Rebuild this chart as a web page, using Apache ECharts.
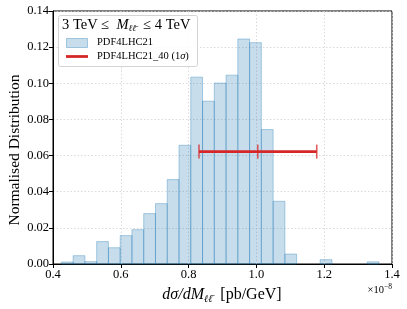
<!DOCTYPE html>
<html><head><meta charset="utf-8">
<script src="https://cdn.jsdelivr.net/npm/echarts@6/dist/echarts.min.js"></script>
<style>html,body{margin:0;padding:0;background:#fff}#c{width:407px;height:309px}</style>
</head><body><div id="c"></div>
<script>
// Histogram bin edges (units of 1e-8 pb/GeV)
const binEdges = [0.4247, 0.4594, 0.4941, 0.5288, 0.5635, 0.5982, 0.6329, 0.6676, 0.7023, 0.7370,
  0.7717, 0.8064, 0.8411, 0.8758, 0.9105, 0.9452, 0.9799, 1.0146, 1.0493, 1.0840,
  1.1187, 1.1534, 1.1881, 1.2228, 1.2575, 1.2922, 1.3269, 1.3616];
// Normalised counts per bin
const binHeights = [0.0011, 0.0046, 0.0013, 0.0124, 0.0090, 0.0157, 0.0190, 0.0279, 0.0334, 0.0467,
  0.0657, 0.1034, 0.0901, 0.1001, 0.1045, 0.1245, 0.1225, 0.0744, 0.0347, 0.0055,
  0.0000, 0.0000, 0.0024, 0.0000, 0.0000, 0.0000, 0.0012];
// Error bar: central value, y-level, lower, upper (1 sigma)
const errCenter = [1.004];
const errY = [0.0622];
const errLow = [0.8307];
const errHigh = [1.178];
const xTicks = [0.4, 0.6, 0.8, 1.0, 1.2, 1.4];
const yTicks = [0.00, 0.02, 0.04, 0.06, 0.08, 0.10, 0.12, 0.14];
const seriesNames = ['PDF4LHC21', 'PDF4LHC21_40 (1σ)'];

const SERIF = '"Liberation Serif","DejaVu Serif",serif';
const SUBF = '"DejaVu Serif","Liberation Serif",serif';
const histData = binHeights.map((h, i) => [binEdges[i], binEdges[i + 1], h]);
const errData = errCenter.map((c, i) => [c, errY[i], errLow[i], errHigh[i]]);

const chart = echarts.init(document.getElementById('c'));
chart.setOption({
  animation: false,
  grid: { left: 53, right: 15, top: 11, bottom: 45, show: true, borderColor: '#000', borderWidth: 1 },
  xAxis: {
    type: 'value', min: xTicks[0], max: xTicks[xTicks.length - 1], interval: 0.2,
    axisLine: { lineStyle: { color: '#000', width: 1 } },
    axisTick: { show: true, inside: false, length: 4, lineStyle: { color: '#000' } },
    axisLabel: { color: '#000', fontFamily: SERIF, fontSize: 12.5, margin: 4, formatter: v => v.toFixed(1) },
    splitLine: { show: true, lineStyle: { color: '#d0d0d0', type: [1.5, 2], width: 0.8 } }
  },
  yAxis: {
    type: 'value', min: yTicks[0], max: yTicks[yTicks.length - 1], interval: 0.02,
    axisLine: { show: true, lineStyle: { color: '#000', width: 1 } },
    axisTick: { show: true, inside: false, length: 4, lineStyle: { color: '#000' } },
    axisLabel: { color: '#000', fontFamily: SERIF, fontSize: 12.5, margin: 4, formatter: v => v.toFixed(2) },
    splitLine: { show: true, lineStyle: { color: '#d0d0d0', type: [1.5, 2], width: 0.8 } }
  },
  series: [
    {
      name: seriesNames[0], type: 'custom', data: histData,
      encode: { x: [0, 1], y: 2 },
      renderItem: function (params, api) {
        const h = api.value(2);
        if (!(h > 0)) return null;
        const p0 = api.coord([api.value(0), h]);
        const p1 = api.coord([api.value(1), 0]);
        return {
          type: 'rect',
          shape: { x: p0[0], y: p0[1], width: p1[0] - p0[0], height: p1[1] - p0[1] },
          style: { fill: 'rgba(31,119,180,0.25)', stroke: 'rgba(31,119,180,0.35)', lineWidth: 1 }
        };
      }
    },
    {
      name: seriesNames[1], type: 'custom', data: errData, z: 5,
      encode: { x: [0, 2, 3], y: 1 },
      renderItem: function (params, api) {
        const y = api.value(1);
        const pc = api.coord([api.value(0), y]);
        const pl = api.coord([api.value(2), y]);
        const ph = api.coord([api.value(3), y]);
        const cap = 7;
        const st = { stroke: '#d62728', lineWidth: 2.8 };
        const cs = { stroke: 'rgba(214,39,40,0.75)', lineWidth: 1.6 };
        return {
          type: 'group', children: [
            { type: 'line', shape: { x1: pl[0], y1: pl[1], x2: ph[0], y2: ph[1] }, style: st },
            { type: 'line', shape: { x1: pl[0], y1: pl[1] - cap, x2: pl[0], y2: pl[1] + cap }, style: cs },
            { type: 'line', shape: { x1: ph[0], y1: ph[1] - cap, x2: ph[0], y2: ph[1] + cap }, style: cs },
            { type: 'line', shape: { x1: pc[0], y1: pc[1] - cap, x2: pc[0], y2: pc[1] + cap }, style: cs }
          ]
        };
      }
    }
  ],
  graphic: [
    // legend box
    { type: 'rect', left: 58, top: 15, shape: { width: 139, height: 51, r: 2 },
      style: { fill: 'rgba(255,255,255,0.85)', stroke: '#d4d4d4', lineWidth: 1 }, z: 10 },
    { type: 'text', left: 62, top: 18, z: 11,
      style: { text: '3 TeV ≤  {i|M}{s|ℓℓ̄}  ≤ 4 TeV', fill: '#000', font: '14.5px ' + SERIF,
        rich: { i: { fontStyle: 'italic', fontFamily: SERIF, fontSize: 14.5 }, s: { fontStyle: 'italic', fontFamily: SUBF, fontSize: 9, padding: [7, 0, 0, 0] } } } },
    { type: 'rect', left: 66, top: 38, shape: { width: 21, height: 9 }, z: 11,
      style: { fill: 'rgba(31,119,180,0.25)', stroke: 'rgba(31,119,180,0.35)', lineWidth: 1 } },
    { type: 'text', left: 97, top: 37, z: 11, style: { text: seriesNames[0], fill: '#000', font: '10.5px ' + SERIF } },
    { type: 'line', shape: { x1: 66, y1: 56.5, x2: 88, y2: 56.5 }, z: 11, style: { stroke: '#d62728', lineWidth: 2.8 } },
    { type: 'text', left: 97, top: 51, z: 11,
      style: { text: 'PDF4LHC21_40 (1{i|σ})', fill: '#000', font: '10.5px ' + SERIF,
        rich: { i: { fontStyle: 'italic', fontFamily: SERIF, fontSize: 10.5 } } } },
    // y axis label
    { type: 'text', x: 15, y: 150, rotation: Math.PI / 2, z: 11,
      style: { text: 'Normalised Distribution', fill: '#000', font: '15.5px ' + SERIF, align: 'center', verticalAlign: 'middle' } },
    // x axis label
    { type: 'text', x: 222, y: 295, z: 11,
      style: { text: '{i|dσ/dM}{s|ℓℓ̄}  [pb/GeV]', fill: '#000', font: '16px ' + SERIF, align: 'center', verticalAlign: 'middle',
        rich: { i: { fontStyle: 'italic', fontFamily: SERIF, fontSize: 16 }, s: { fontStyle: 'italic', fontFamily: SUBF, fontSize: 10, padding: [8, 0, 0, 0] } } } },
    // offset text
    { type: 'text', right: 15, top: 283, z: 11,
      style: { text: '×10{s|−8}', fill: '#000', font: '10.5px ' + SERIF,
        rich: { s: { fontFamily: SERIF, fontSize: 7.5, padding: [0, 0, 6, 0] } } } }
  ]
});
</script></body></html>
